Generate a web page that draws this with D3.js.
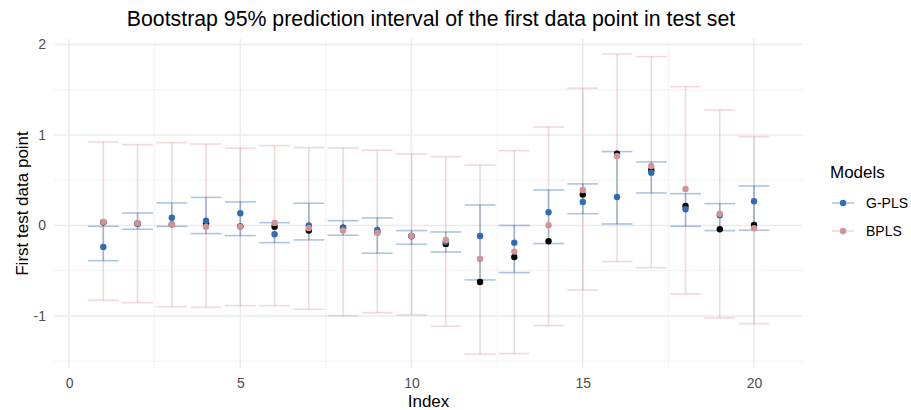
<!DOCTYPE html>
<html>
<head>
<meta charset="utf-8">
<script src="https://cdn.jsdelivr.net/npm/d3@7"></script>
<style>
  body { margin: 0; background: #fff; }
  svg text { font-family: "Liberation Sans", Arial, sans-serif; }
</style>
</head>
<body>
<script>
var width = 911, height = 410;

var idx = d3.range(1, 21);

// observed value of the first test point
var truth = [0.035, 0.02, 0.012, 0.024, -0.01, -0.013, -0.057, -0.024, -0.07, -0.116,
             -0.204, -0.624, -0.348, -0.175, 0.341, 0.793, 0.613, 0.215, -0.042, 0.005];

// G-PLS
var gplsMid = [-0.237, 0.024, 0.085, 0.053, 0.135, -0.098, 0.0, -0.03, -0.05, -0.12,
               -0.18, -0.116, -0.19, 0.146, 0.26, 0.315, 0.583, 0.179, 0.114, 0.267];
var gplsLo = [-0.389, -0.042, -0.01, -0.09, -0.112, -0.19, -0.16, -0.108, -0.307, -0.208,
              -0.293, -0.602, -0.521, -0.2, 0.13, 0.017, 0.359, -0.009, -0.057, -0.053];
var gplsHi = [-0.01, 0.138, 0.249, 0.31, 0.26, 0.031, 0.245, 0.053, 0.083, -0.057,
              -0.072, 0.226, 0.0, 0.392, 0.459, 0.816, 0.702, 0.351, 0.241, 0.436];

// BPLS
var bplsMid = [0.039, 0.024, 0.01, -0.013, -0.013, 0.028, -0.03, -0.057, -0.083, -0.116,
               -0.16, -0.37, -0.289, 0.002, 0.392, 0.768, 0.657, 0.403, 0.13, -0.031];
var bplsLo = [-0.827, -0.853, -0.897, -0.904, -0.886, -0.886, -0.926, -0.997, -0.963, -0.989,
              -1.114, -1.423, -1.416, -1.107, -0.713, -0.4, -0.466, -0.757, -1.022, -1.085];
var bplsHi = [0.923, 0.893, 0.915, 0.9, 0.853, 0.882, 0.86, 0.856, 0.831, 0.79,
              0.76, 0.668, 0.827, 1.088, 1.516, 1.895, 1.866, 1.534, 1.276, 0.981];

var models = ['G-PLS', 'BPLS'];
var colors = ['#2E6DB4', '#D39293'];

var xTicks = [0, 5, 10, 15, 20];
var yTicks = [-1, 0, 1, 2];

var panel = {left: 54, right: 803, top: 39, bottom: 368};

var x = d3.scaleLinear().domain([-0.44, 21.43]).range([panel.left, panel.right]);
var y = d3.scaleLinear().domain([-1.575, 2.06]).range([panel.bottom, panel.top]);

var svg = d3.select('body').append('svg')
  .attr('width', width)
  .attr('height', height);

// grid
var grid = svg.append('g');
[2.5, 7.5, 12.5, 17.5].forEach(function(v){
  grid.append('line').attr('x1', x(v)).attr('x2', x(v))
    .attr('y1', panel.top).attr('y2', panel.bottom)
    .attr('stroke', '#F2F2F2').attr('stroke-width', 1);
});
[-1.5, -0.5, 0.5, 1.5].forEach(function(v){
  grid.append('line').attr('y1', y(v)).attr('y2', y(v))
    .attr('x1', panel.left).attr('x2', panel.right)
    .attr('stroke', '#F2F2F2').attr('stroke-width', 1);
});
xTicks.forEach(function(v){
  grid.append('line').attr('x1', x(v)).attr('x2', x(v))
    .attr('y1', panel.top).attr('y2', panel.bottom)
    .attr('stroke', '#EBEBEB').attr('stroke-width', 1.5);
});
yTicks.forEach(function(v){
  grid.append('line').attr('y1', y(v)).attr('y2', y(v))
    .attr('x1', panel.left).attr('x2', panel.right)
    .attr('stroke', '#EBEBEB').attr('stroke-width', 1.5);
});

// axes (labels only, like theme_minimal)
var xAxis = svg.append('g')
  .attr('transform', 'translate(0,' + panel.bottom + ')')
  .call(d3.axisBottom(x).tickValues(xTicks).tickSize(0).tickPadding(10));
var yAxis = svg.append('g')
  .attr('transform', 'translate(' + panel.left + ',0)')
  .call(d3.axisLeft(y).tickValues(yTicks).tickSize(0).tickPadding(8)
        .tickFormat(function(d){ return d < 0 ? '-' + Math.abs(d) : d; }));
[xAxis, yAxis].forEach(function(a){
  a.select('.domain').remove();
  a.selectAll('text').attr('fill', '#4D4D4D').style('font-size', '14px');
});

// error bars
function errorbars(lo, hi, color, opacity){
  var g = svg.append('g').attr('stroke', color).attr('stroke-opacity', opacity)
    .attr('stroke-width', 1.6).attr('fill', 'none');
  idx.forEach(function(d, i){
    g.append('line').attr('x1', x(d)).attr('x2', x(d))
      .attr('y1', y(lo[i])).attr('y2', y(hi[i]));
    g.append('line').attr('x1', x(d - 0.45)).attr('x2', x(d + 0.45))
      .attr('y1', y(lo[i])).attr('y2', y(lo[i]));
    g.append('line').attr('x1', x(d - 0.45)).attr('x2', x(d + 0.45))
      .attr('y1', y(hi[i])).attr('y2', y(hi[i]));
  });
}
errorbars(bplsLo, bplsHi, colors[1], 0.35);
errorbars(gplsLo, gplsHi, colors[0], 0.4);

function points(vals, color){
  svg.append('g').selectAll('circle')
    .data(vals)
    .enter()
    .append('circle')
    .attr('cx', function(d, i){ return x(idx[i]); })
    .attr('cy', function(d){ return y(d); })
    .attr('r', 3.2)
    .attr('fill', color);
}
points(truth, '#000000');
points(gplsMid, colors[0]);
points(bplsMid, colors[1]);

// titles
svg.append('text')
  .attr('x', 431).attr('y', 26)
  .attr('text-anchor', 'middle')
  .style('font-size', '21.3px')
  .text('Bootstrap 95% prediction interval of the first data point in test set');

svg.append('text')
  .attr('x', (panel.left + panel.right) / 2).attr('y', 406.5)
  .attr('text-anchor', 'middle')
  .style('font-size', '17px')
  .text('Index');

svg.append('text')
  .attr('transform', 'translate(28,' + ((panel.top + panel.bottom) / 2) + ') rotate(-90)')
  .attr('text-anchor', 'middle')
  .style('font-size', '17px')
  .text('First test data point');

// legend
var legend = svg.append('g').attr('transform', 'translate(830,0)');
legend.append('text').attr('x', 0).attr('y', 178)
  .style('font-size', '17px').text('Models');
models.forEach(function(m, i){
  var ly = 203 + i * 28;
  legend.append('line').attr('x1', 2).attr('x2', 24).attr('y1', ly).attr('y2', ly)
    .attr('stroke', colors[i]).attr('stroke-opacity', i === 0 ? 0.4 : 0.35)
    .attr('stroke-width', 1.6);
  legend.append('circle').attr('cx', 13).attr('cy', ly).attr('r', 3.2)
    .attr('fill', colors[i]);
  legend.append('text').attr('x', 36).attr('y', ly + 5)
    .style('font-size', '14px').attr('fill', '#000').text(m);
});
</script>
</body>
</html>
